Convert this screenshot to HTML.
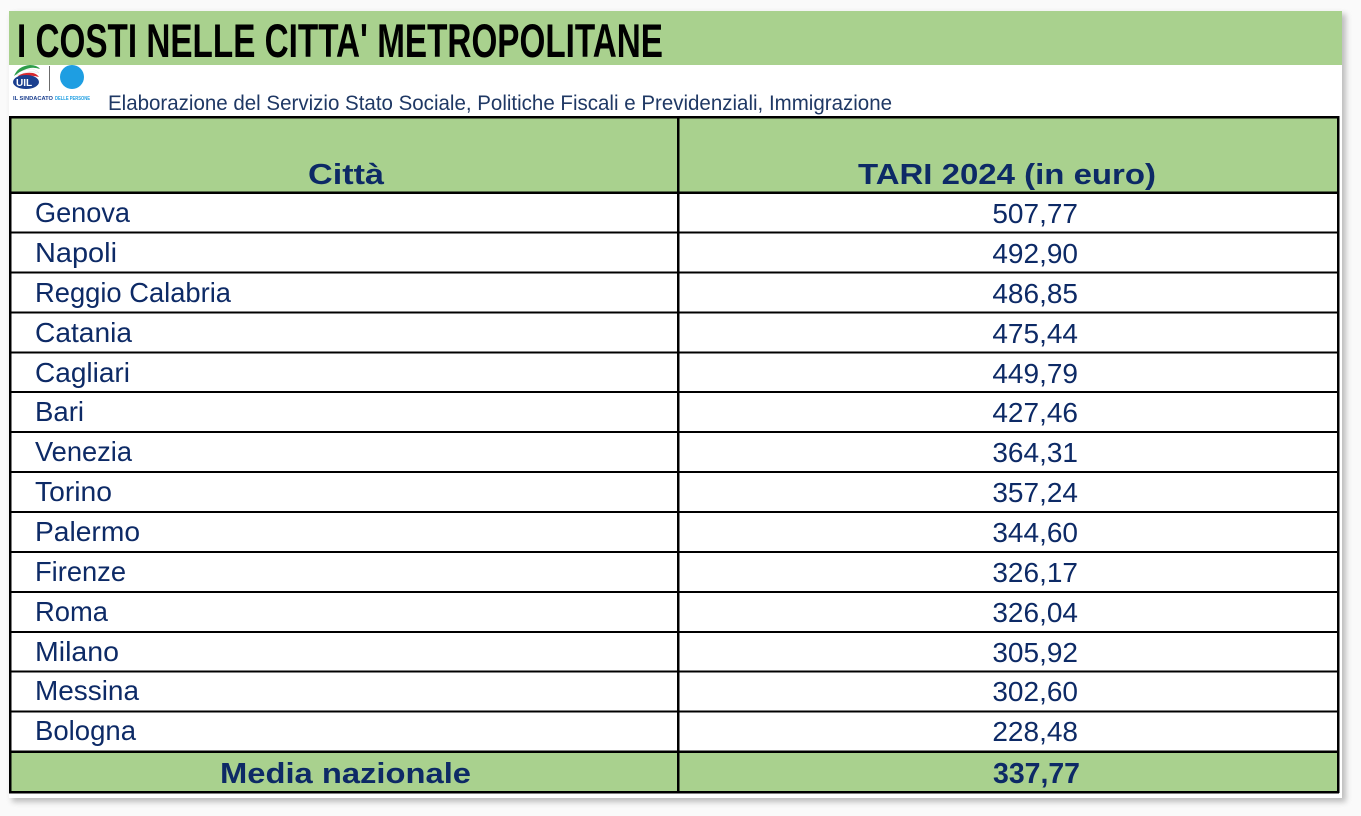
<!DOCTYPE html>
<html><head><meta charset="utf-8"><style>
html,body{margin:0;padding:0;background:#fafafa;}
svg{display:block;}
</style></head><body>
<svg width="1361" height="816" viewBox="0 0 1361 816" xmlns="http://www.w3.org/2000/svg">
<defs>
<filter id="sh" x="-5%" y="-5%" width="110%" height="110%"><feGaussianBlur stdDeviation="3"/></filter>
</defs>
<rect x="0" y="0" width="1361" height="816" fill="#fafafa"/>
<rect x="12" y="14" width="1334" height="788" fill="#bdbdbd" filter="url(#sh)"/>
<rect x="9" y="11" width="1333" height="787" fill="#ffffff"/>
<rect x="9" y="11" width="1333" height="54" fill="#a9d18e"/>
<text x="17" y="57" font-family="Liberation Sans, sans-serif" font-weight="bold" font-size="47" fill="#000" textLength="646" lengthAdjust="spacingAndGlyphs">I COSTI NELLE CITTA' METROPOLITANE</text>
<!-- logo -->
<path d="M14 76 Q18 66 30 65 Q37 65 40 69 Q32 66 24 70 Q18 73 14 76Z" fill="#2e9e4a"/>
<path d="M16 75 Q22 69 32 69 Q37 70 39 73 Q30 70 22 74Z" fill="#ffffff" stroke="#cccccc" stroke-width="0.3"/>
<path d="M18 76 Q24 72 33 73 Q37 74 39 77 Q30 74 20 78Z" fill="#d8282f"/>
<ellipse cx="26" cy="82" rx="13" ry="7" fill="#1b3f8f"/>
<text x="16" y="86" font-family="Liberation Sans, sans-serif" font-weight="bold" font-size="10" fill="#fff">UIL</text>
<rect x="49" y="66" width="1" height="25" fill="#6b6b6b"/>
<circle cx="72" cy="77" r="12" fill="#1e9ee2"/>
<text x="13" y="100" font-family="Liberation Sans, sans-serif" font-weight="bold" font-size="5" fill="#1b3f8f" textLength="40" lengthAdjust="spacingAndGlyphs">IL SINDACATO</text>
<text x="55" y="100" font-family="Liberation Sans, sans-serif" font-weight="bold" font-size="5" fill="#1e9ee2" textLength="35" lengthAdjust="spacingAndGlyphs">DELLE PERSONE</text>
<text x="108" y="110" font-family="Liberation Sans, sans-serif" font-size="21" fill="#1f3864" textLength="784" lengthAdjust="spacingAndGlyphs">Elaborazione del Servizio Stato Sociale, Politiche Fiscali e Previdenziali, Immigrazione</text>
<!-- table fills -->
<rect x="10" y="117" width="1328" height="76" fill="#a9d18e"/>
<rect x="10" y="752" width="1328" height="41" fill="#a9d18e"/>
<!-- header text -->
<g font-family="Liberation Sans, sans-serif" font-weight="bold" fill="#0d2a66">
<text x="308" y="184" font-size="29" textLength="76" lengthAdjust="spacingAndGlyphs">Città</text>
<text x="858" y="184" font-size="29" textLength="298" lengthAdjust="spacingAndGlyphs">TARI 2024 (in euro)</text>
<text x="220" y="783" font-size="29" textLength="251" lengthAdjust="spacingAndGlyphs">Media nazionale</text>
<text x="993" y="783" font-size="29" textLength="87" lengthAdjust="spacingAndGlyphs">337,77</text>
</g>
<g font-family="Liberation Sans, sans-serif" font-size="28" fill="#0d2a66">
<text x="35" y="222" textLength="95" lengthAdjust="spacingAndGlyphs">Genova</text>
<text x="35" y="262" textLength="82" lengthAdjust="spacingAndGlyphs">Napoli</text>
<text x="35" y="302" textLength="196" lengthAdjust="spacingAndGlyphs">Reggio Calabria</text>
<text x="35" y="342" textLength="97" lengthAdjust="spacingAndGlyphs">Catania</text>
<text x="35" y="382" textLength="95" lengthAdjust="spacingAndGlyphs">Cagliari</text>
<text x="35" y="421" textLength="49" lengthAdjust="spacingAndGlyphs">Bari</text>
<text x="35" y="461" textLength="97" lengthAdjust="spacingAndGlyphs">Venezia</text>
<text x="35" y="501" textLength="77" lengthAdjust="spacingAndGlyphs">Torino</text>
<text x="35" y="541" textLength="105" lengthAdjust="spacingAndGlyphs">Palermo</text>
<text x="35" y="581" textLength="91" lengthAdjust="spacingAndGlyphs">Firenze</text>
<text x="35" y="621" textLength="73" lengthAdjust="spacingAndGlyphs">Roma</text>
<text x="35" y="661" textLength="84" lengthAdjust="spacingAndGlyphs">Milano</text>
<text x="35" y="700" textLength="104" lengthAdjust="spacingAndGlyphs">Messina</text>
<text x="35" y="740" textLength="101" lengthAdjust="spacingAndGlyphs">Bologna</text>
</g>
<g font-family="Liberation Sans, sans-serif" font-size="28" fill="#0d2a66" text-anchor="end">
<text x="1078" y="223">507,77</text>
<text x="1078" y="263">492,90</text>
<text x="1078" y="303">486,85</text>
<text x="1078" y="343">475,44</text>
<text x="1078" y="383">449,79</text>
<text x="1078" y="422">427,46</text>
<text x="1078" y="462">364,31</text>
<text x="1078" y="502">357,24</text>
<text x="1078" y="542">344,60</text>
<text x="1078" y="582">326,17</text>
<text x="1078" y="622">326,04</text>
<text x="1078" y="662">305,92</text>
<text x="1078" y="701">302,60</text>
<text x="1078" y="741">228,48</text>
</g>
<!-- grid lines -->
<g fill="#000">
<rect x="9" y="116" width="1330" height="2.5"/>
<rect x="9" y="791" width="1330" height="2.5"/>
<rect x="9" y="116" width="2.5" height="677"/>
<rect x="1337" y="116" width="2.5" height="677"/>
<rect x="677" y="116" width="2.5" height="677"/>
<rect x="9" y="191.5" width="1330" height="2.5"/>
<rect x="9" y="231.5" width="1330" height="2"/>
<rect x="9" y="271.5" width="1330" height="2"/>
<rect x="9" y="311.5" width="1330" height="2"/>
<rect x="9" y="351.5" width="1330" height="2"/>
<rect x="9" y="391" width="1330" height="2"/>
<rect x="9" y="431" width="1330" height="2"/>
<rect x="9" y="471" width="1330" height="2"/>
<rect x="9" y="511" width="1330" height="2"/>
<rect x="9" y="551" width="1330" height="2"/>
<rect x="9" y="591" width="1330" height="2"/>
<rect x="9" y="631" width="1330" height="2"/>
<rect x="9" y="670.5" width="1330" height="2"/>
<rect x="9" y="710.5" width="1330" height="2"/>
<rect x="9" y="750.5" width="1330" height="2.5"/>
</g>
</svg>
</body></html>
